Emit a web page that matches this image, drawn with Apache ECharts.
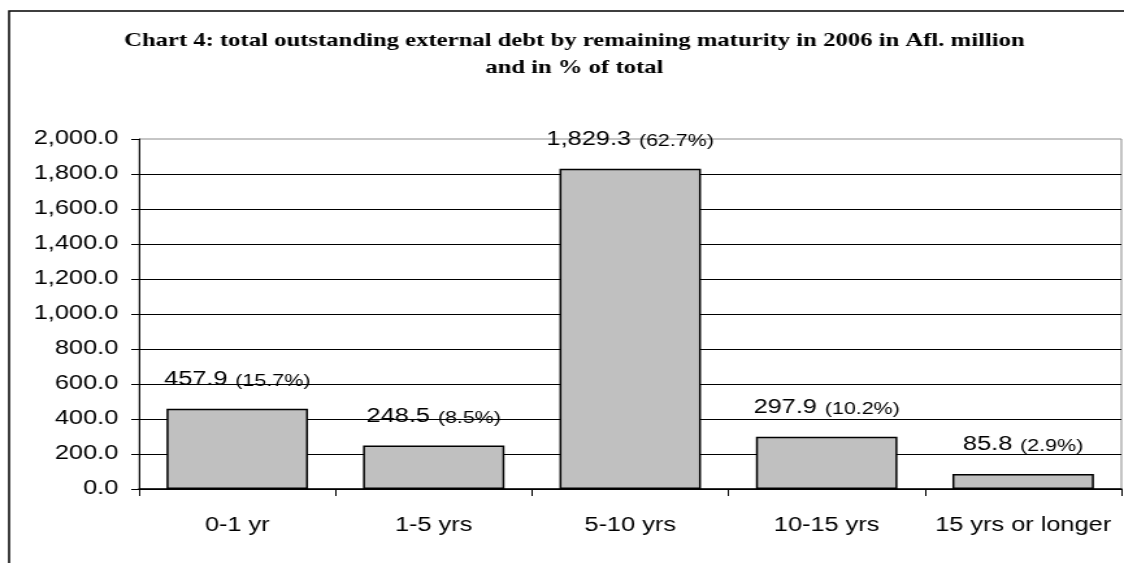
<!DOCTYPE html>
<html>
<head>
<meta charset="utf-8">
<script src="https://cdn.jsdelivr.net/npm/echarts@6/dist/echarts.min.js"></script>
<style>
  html, body { margin: 0; padding: 0; background: #fff; overflow: hidden; }
  /* the chart is laid out narrow and widened, giving the stretched letterforms of the printed report */
  #chart { width: 865px; height: 563px; transform: scaleX(1.2994); transform-origin: 0 0; }
</style>
</head>
<body>
<div id="chart"></div>
<script>
// Remaining maturity buckets, debt in Afl. million and share of total
const categories = ['0-1 yr', '1-5 yrs', '5-10 yrs', '10-15 yrs', '15 yrs or longer'];
const debtValues = [457.9, 248.5, 1829.3, 297.9, 85.8];
const debtShares = ['15.7%', '8.5%', '62.7%', '10.2%', '2.9%'];
const titleLines = [
  'Chart 4: total outstanding external debt by remaining maturity in 2006 in Afl. million',
  'and in % of total'
];

const fmt = v => v.toLocaleString('en-US', { minimumFractionDigits: 1, maximumFractionDigits: 1 });
const sans = 'Liberation Sans';

const chart = echarts.init(document.getElementById('chart'), null, { renderer: 'canvas' });

chart.setOption({
  animation: false,
  backgroundColor: '#fff',
  grid: {
    left: 107, right: 2, top: 139, bottom: 74,
    show: true, borderColor: '#8c8c8c', borderWidth: 1, backgroundColor: 'transparent'
  },
  graphic: [
    {
      type: 'polyline',
      shape: { points: [[7, 563], [7, 11], [870, 11]] },
      style: { stroke: '#000', lineWidth: 1.5, fill: null },
      silent: true
    },
    {
      type: 'text',
      x: 442, y: 28,
      style: {
        text: titleLines.join('\n'),
        font: 'bold 19px "Liberation Serif"',
        fill: '#000',
        align: 'center',
        verticalAlign: 'top',
        lineHeight: 27
      },
      silent: true
    }
  ],
  xAxis: {
    type: 'category',
    data: categories,
    boundaryGap: true,
    axisLine: { lineStyle: { color: '#000', width: 1.5 } },
    axisTick: { show: true, length: 7, lineStyle: { color: '#000', width: 1 } },
    axisLabel: { interval: 0, color: '#000', fontFamily: sans, fontSize: 19.5, margin: 27 }
  },
  yAxis: {
    type: 'value',
    min: 0, max: 2000, interval: 200,
    axisLine: { show: true, lineStyle: { color: '#000', width: 1 } },
    axisTick: { show: true, length: 6, lineStyle: { color: '#000', width: 1 } },
    axisLabel: { color: '#000', fontFamily: sans, fontSize: 19.5, margin: 16, formatter: fmt },
    splitLine: { show: true, showMaxLine: false, lineStyle: { color: '#000', width: 1 } }
  },
  series: [{
    type: 'bar',
    data: debtValues,
    barWidth: '72%',
    itemStyle: { color: '#c0c0c0', borderColor: '#000', borderWidth: 1.5 },
    label: {
      show: true,
      position: 'top',
      distance: 19,
      formatter: p => '{v|' + fmt(p.value) + '}{p|(' + debtShares[p.dataIndex] + ')}',
      rich: {
        v: { fontFamily: sans, fontSize: 19.5, color: '#000', verticalAlign: 'bottom', lineHeight: 22 },
        p: { fontFamily: sans, fontSize: 16.5, color: '#000', verticalAlign: 'bottom', lineHeight: 22, padding: [0, 0, 0, 6] }
      }
    }
  }]
});
</script>
</body>
</html>
